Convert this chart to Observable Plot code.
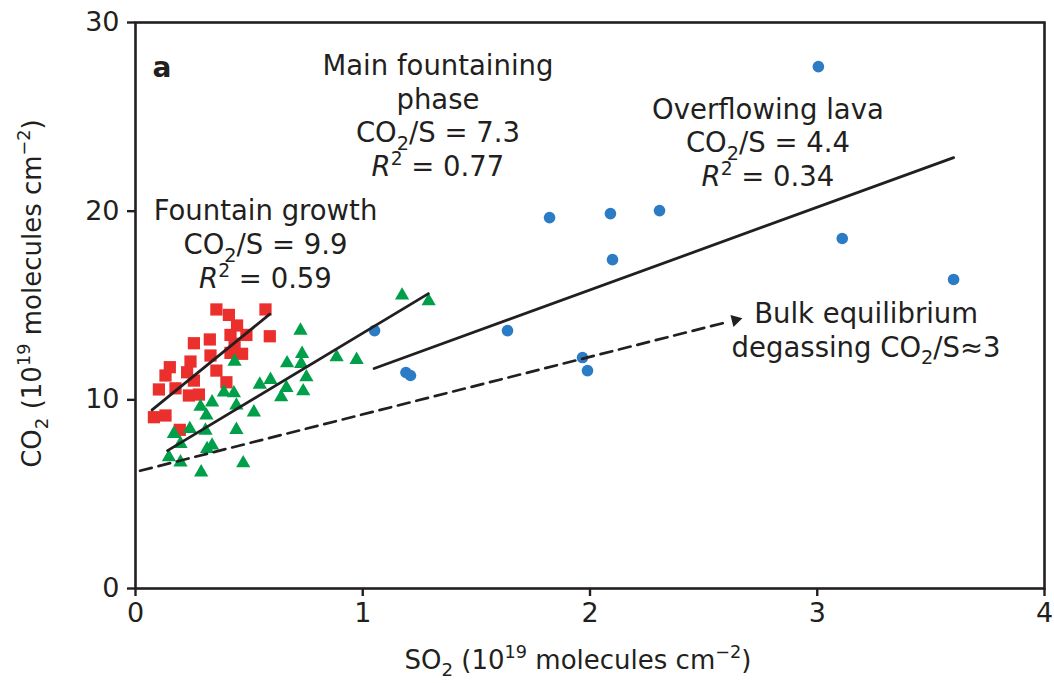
<!DOCTYPE html>
<html><head><meta charset="utf-8">
<script src="https://cdn.jsdelivr.net/npm/d3@7"></script>
<script src="https://cdn.jsdelivr.net/npm/@observablehq/plot@0.6"></script>
<style>body{margin:0;background:#fff}</style>
</head><body><div id="chart"></div>
<script>
// Fountain growth (red squares)
const growthSO2 = [0.356,0.411,0.572,0.447,0.418,0.488,0.591,0.327,0.257,0.436,0.469,0.418,0.330,0.242,0.151,0.132,0.227,0.356,0.257,0.400,0.103,0.176,0.235,0.279,0.081,0.132,0.195];
const growthCO2 = [14.79,14.50,14.79,13.94,13.44,13.44,13.37,13.20,13.00,12.97,12.44,12.49,12.35,12.03,11.73,11.29,11.46,11.55,11.02,10.93,10.55,10.61,10.23,10.28,9.08,9.17,8.41];
// Main fountaining phase (green triangles)
const mainSO2 = [1.173,1.290,0.726,0.733,0.885,0.973,0.729,0.667,0.752,0.594,0.547,0.664,0.738,0.641,0.436,0.389,0.433,0.337,0.286,0.444,0.521,0.312,0.239,0.308,0.169,0.444,0.198,0.337,0.315,0.147,0.198,0.474,0.289];
const mainCO2 = [15.53,15.23,13.67,12.44,12.26,12.12,11.91,11.94,11.20,11.06,10.81,10.64,10.46,10.14,12.03,10.40,10.35,9.87,9.64,9.70,9.34,9.17,8.46,8.37,8.20,8.41,7.67,7.58,7.40,6.96,6.69,6.64,6.16];
// Overflowing lava (blue circles)
const lavaSO2 = [3.005,1.822,2.090,2.306,2.099,3.110,3.600,1.052,1.637,1.967,1.989,1.190,1.210];
const lavaCO2 = [27.66,19.66,19.87,20.03,17.43,18.55,16.38,13.67,13.67,12.24,11.55,11.45,11.29];
// Regression fits (end points)
const growthFitSO2 = [0.073, 0.591], growthFitCO2 = [9.47, 14.54];
const mainFitSO2 = [0.141, 1.289], mainFitCO2 = [7.31, 15.63];
const lavaFitSO2 = [1.05, 3.60], lavaFitCO2 = [11.66, 22.84];
const bulkSO2 = [0.02, 2.61], bulkCO2 = [6.24, 14.14];
const bulkHeadSO2 = [2.640], bulkHeadCO2 = [14.23];
// Tick values
const xTicks = [0, 1, 2, 3, 4];
const yTicks = [0, 10, 20, 30];
// Annotation texts
const annTexts = [
  "Main fountaining\nphase\nCO_{2}/S = 7.3\n*R*^{2} = 0.77",
  "Fountain growth\nCO_{2}/S = 9.9\n*R*^{2} = 0.59",
  "Overflowing lava\nCO_{2}/S = 4.4\n*R*^{2} = 0.34",
  "Bulk equilibrium\ndegassing CO_{2}/S≈3"
];
const annSO2 = [1.331, 0.572, 2.783, 3.215];
const annCO2 = [25.1, 18.3, 23.7, 13.75];
const panelLabel = "a";
const xLabel = "SO_{2} (10^{19} molecules cm^{−2})";
const yLabel = "CO_{2} (10^{19} molecules cm^{−2})";

const zip = (xs, ys) => xs.map((x, i) => ({x, y: ys[i]}));
const ink = "#231f20";

const chart = Plot.plot({
  width: 1054, height: 683,
  marginLeft: 135, marginRight: 10, marginTop: 22, marginBottom: 95,
  style: {fontFamily: "'DejaVu Sans', sans-serif", fontSize: "27px", color: ink, background: "#fff"},
  x: {domain: [0, 4]},
  y: {domain: [0, 30]},
  marks: [
    Plot.dot(zip(growthSO2, growthCO2), {x: "x", y: "y", symbol: "square", r: 6.9, fill: "#ea2f2d"}),
    Plot.dot(zip(mainSO2, mainCO2), {x: "x", y: "y", symbol: "triangle", r: 5.3, fill: "#00a04b"}),
    Plot.dot(zip(lavaSO2, lavaCO2), {x: "x", y: "y", symbol: "circle", r: 5.8, fill: "#2b7cc4"}),
    Plot.line(zip(growthFitSO2, growthFitCO2), {x: "x", y: "y", stroke: ink, strokeWidth: 2.8}),
    Plot.line(zip(mainFitSO2, mainFitCO2), {x: "x", y: "y", stroke: ink, strokeWidth: 2.8}),
    Plot.line(zip(lavaFitSO2, lavaFitCO2), {x: "x", y: "y", stroke: ink, strokeWidth: 2.8}),
    Plot.line(zip(bulkSO2, bulkCO2), {x: "x", y: "y", stroke: ink, strokeWidth: 2.7, strokeDasharray: "12,7"}),
    Plot.dot(zip(bulkHeadSO2, bulkHeadCO2), {x: "x", y: "y", symbol: "triangle", r: 4.6, fill: ink, rotate: 76}),
    Plot.frame({stroke: ink, strokeWidth: 2.6}),
    Plot.axisX({ticks: xTicks, tickSize: 8, tickPadding: 6, fontSize: 27, label: null, strokeWidth: 2.4, tickFormat: d => String(d)}),
    Plot.axisY({ticks: yTicks, tickSize: 8, tickPadding: 8, fontSize: 27, label: null, strokeWidth: 2.4, tickFormat: d => String(d)}),
    Plot.text(annTexts.map((t, i) => ({t, x: annSO2[i], y: annCO2[i]})), {x: "x", y: "y", text: "t", fontSize: 27.5, lineHeight: 1.22, fill: ink, textAnchor: "middle", lineAnchor: "middle"}),
    Plot.text([panelLabel], {x: () => 0.075, y: () => 27.6, text: d => d, fontSize: 28, fontWeight: "bold", textAnchor: "start", fill: ink}),
    Plot.text([xLabel], {frameAnchor: "bottom", dy: 72, dx: -12, text: d => d, fontSize: 26, fill: ink, textAnchor: "middle", lineAnchor: "middle"}),
    Plot.text([yLabel], {frameAnchor: "left", dx: -103, dy: -12, rotate: -90, text: d => d, fontSize: 26, fill: ink, textAnchor: "middle", lineAnchor: "middle"})
  ]
});

// rich text: _{sub}, ^{sup}, *italic*
function richify(el) {
  const lines = [...el.children].filter(c => c.tagName === "tspan");
  const targets = lines.length ? lines : [el];
  const NS = "http://www.w3.org/2000/svg";
  for (const t of targets) {
    const s = t.textContent;
    if (!/[_^]\{|\*/.test(s)) continue;
    t.textContent = "";
    const parts = s.split(/(_\{[^}]*\}|\^\{[^}]*\}|\*[^*]*\*)/).filter(p => p.length);
    let reset = 0;
    for (const p of parts) {
      const ts = document.createElementNS(NS, "tspan");
      if (p.startsWith("_{")) {
        ts.textContent = p.slice(2, -1);
        ts.setAttribute("font-size", "70%");
        ts.setAttribute("dy", (0.28 / 0.7 + reset / 0.7).toFixed(3) + "em");
        reset = -0.28;
      } else if (p.startsWith("^{")) {
        ts.textContent = p.slice(2, -1);
        ts.setAttribute("font-size", "68%");
        ts.setAttribute("dy", (-0.40 / 0.68 + reset / 0.68).toFixed(3) + "em");
        reset = 0.40;
      } else {
        if (p.startsWith("*") && p.endsWith("*") && p.length > 1) {
          ts.textContent = p.slice(1, -1);
          ts.setAttribute("font-style", "italic");
        } else ts.textContent = p;
        if (reset) ts.setAttribute("dy", reset + "em");
        reset = 0;
      }
      t.appendChild(ts);
    }
    if (reset) {
      const ts = document.createElementNS(NS, "tspan");
      ts.textContent = "\u200B";
      ts.setAttribute("dy", reset + "em");
      t.appendChild(ts);
    }
  }
}
chart.querySelectorAll("text").forEach(richify);
document.getElementById("chart").appendChild(chart);
</script>
</body></html>
